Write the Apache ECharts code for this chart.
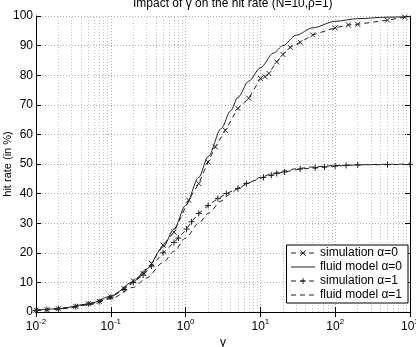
<!DOCTYPE html>
<html>
<head>
<meta charset="utf-8">
<script src="https://cdn.jsdelivr.net/npm/echarts@6/dist/echarts.min.js"></script>
<style>
  html, body { margin: 0; padding: 0; background: #fff; }
  #chart { width: 416px; height: 347px; }
</style>
</head>
<body>
<div id="chart"></div>
<script>
// fluid model curves
const fluidGamma = [0.01, 0.02, 0.05, 0.1, 0.2, 0.3, 0.5, 0.7, 1, 1.5, 2, 3, 4, 5, 7, 10, 15, 20, 30, 50, 100, 200, 500, 1000];
const fluidA0 = [0.6, 1.1, 2.7, 5.3, 10.2, 14.5, 22, 28, 36, 45.5, 52.5, 62, 68, 72.5, 78, 82.5, 87.5, 90, 93.5, 96, 98.2, 99.1, 99.6, 99.8];
const fluidA1 = [0.5, 1, 2.4, 4.5, 8.3, 11.5, 16.7, 20.5, 25, 30, 33.3, 37.5, 40, 41.7, 43.7, 45.5, 46.9, 47.6, 48.4, 49, 49.5, 49.75, 49.9, 50];

// simulation points
const simA0Gamma = [0.01, 0.014, 0.02, 0.034, 0.05, 0.07, 0.1, 0.15, 0.2, 0.27, 0.35, 0.5, 0.7, 1.1, 1.5, 2, 2.5, 3.4, 5, 7, 10, 11.5, 13, 16.5, 20, 25, 34, 50, 100, 150, 200, 500, 850];
const simA0 = [0.6, 0.8, 1.1, 1.9, 2.8, 3.6, 5.1, 7.9, 10.5, 13, 16.4, 22.6, 27, 37.8, 43.4, 50.7, 55.8, 61.4, 68.8, 72.2, 78.9, 79.5, 80.6, 84.5, 87, 89.4, 91.1, 93.6, 96, 97, 97.2, 98.6, 99.6];
const simA1Gamma = [0.01, 0.014, 0.02, 0.034, 0.05, 0.07, 0.1, 0.15, 0.2, 0.27, 0.35, 0.5, 0.7, 0.8, 1.03, 1.2, 1.5, 2, 2.7, 3.5, 5, 6.5, 11, 14, 16.5, 21, 34, 54, 72, 100, 140, 200, 500, 1000];
const simA1 = [0.5, 0.8, 1.1, 1.8, 2.7, 3.5, 5, 7.6, 10, 12.5, 15.5, 20, 23.5, 25, 28, 30.5, 33.3, 36, 38.3, 40, 41.7, 43.4, 45.5, 46.2, 46.8, 47.3, 48.3, 48.7, 49, 49.3, 49.5, 49.7, 49.8, 49.8];

const legendNames = ['simulation \u03b1=0', 'fluid model \u03b1=0', 'simulation \u03b1=1', 'fluid model \u03b1=1'];

// minor grid positions 2..9 in each decade
const minorGrid = [];
[0.01, 0.1, 1, 10, 100].forEach(d => {
  for (let k = 2; k <= 9; k++) minorGrid.push({ xAxis: d * k });
});

const pair = (xs, ys) => xs.map((x, i) => [x, ys[i]]);

const chart = echarts.init(document.getElementById('chart'));
const font = 'Liberation Sans, Arial, sans-serif';
const gridLine = { show: true, lineStyle: { color: '#b0b0b0', type: [1, 2], width: 1 } };
const crossPath = 'path://M0,0L10,10M10,0L0,10';
const plusPath = 'path://M5,0L5,10M0,5L10,5';
const hideSymbol = { itemStyle: { opacity: 0 } };

const options = {
  animation: false,
  textStyle: { fontFamily: font },
  title: {
    text: 'Impact of \u03b3 on the hit rate (N=10,\u03c1=1)',
    left: 128,
    top: -7,
    textStyle: { fontSize: 12, fontWeight: 'normal', color: '#000', fontFamily: font }
  },
  grid: {
    left: 36, right: 6, top: 16, bottom: 35,
    outerBoundsMode: 'none'
  },
  legend: {
    orient: 'vertical',
    right: 8,
    top: 245,
    data: [
      { name: legendNames[0] },
      Object.assign({ name: legendNames[1] }, hideSymbol),
      { name: legendNames[2] },
      Object.assign({ name: legendNames[3] }, hideSymbol)
    ],
    backgroundColor: '#fff',
    borderColor: '#000',
    borderWidth: 1,
    borderRadius: 0,
    padding: [2, 6, 2, 4],
    itemWidth: 24,
    itemHeight: 7,
    itemGap: 2,
    lineStyle: { width: 1 },
    itemStyle: { borderWidth: 1 },
    textStyle: { fontSize: 12, color: '#000', fontFamily: font }
  },
  xAxis: [
    {
      type: 'log',
      logBase: 10,
      min: 0.01,
      max: 1000,
      name: '\u03b3',
      nameLocation: 'middle',
      nameGap: 25,
      nameMoveOverlap: false,
      nameTextStyle: { fontSize: 12, color: '#000' },
      axisLine: { lineStyle: { color: '#000', width: 1 } },
      axisTick: { inside: true, length: 5, lineStyle: { color: '#000' } },
      splitLine: gridLine,
      axisLabel: {
        margin: 6,
        color: '#000',
        formatter: v => '{b|10}{s|' + Math.round(Math.log10(v)) + '}',
        rich: {
          b: { fontSize: 12, color: '#000', fontFamily: font },
          s: { fontSize: 8, color: '#000', fontFamily: font, padding: [0, 0, 9, 0] }
        }
      }
    },
    {
      type: 'log',
      logBase: 10,
      min: 0.01,
      max: 1000,
      position: 'top',
      axisLine: { show: true, lineStyle: { color: '#000', width: 1 } },
      axisTick: { show: true, inside: true, length: 5, lineStyle: { color: '#000' } },
      axisLabel: { show: false },
      splitLine: { show: false }
    }
  ],
  yAxis: [
    {
      type: 'value',
      min: 0,
      max: 100,
      interval: 10,
      name: 'hit rate (in %)',
      nameLocation: 'middle',
      nameGap: 23,
      nameMoveOverlap: false,
      nameTextStyle: { fontSize: 11, color: '#000' },
      axisLine: { show: true, lineStyle: { color: '#000', width: 1 } },
      axisTick: { show: true, inside: true, length: 5, lineStyle: { color: '#000' } },
      axisLabel: { margin: 3, fontSize: 12, color: '#000' },
      splitLine: gridLine
    },
    {
      type: 'value',
      min: 0,
      max: 100,
      interval: 10,
      position: 'right',
      axisLine: { show: true, lineStyle: { color: '#000', width: 1 } },
      axisTick: { show: true, inside: true, length: 5, lineStyle: { color: '#000' } },
      axisLabel: { show: false },
      splitLine: { show: false }
    }
  ],
  series: [
    {
      name: legendNames[0],
      type: 'line',
      data: pair(simA0Gamma, simA0),
      symbol: crossPath,
      symbolSize: 5,
      itemStyle: { color: 'rgba(0,0,0,0)', borderColor: '#222', borderWidth: 1 },
      lineStyle: { color: '#222', width: 1, type: [5, 4] },
      z: 4,
      markLine: {
        silent: true,
        symbol: 'none',
        label: { show: false },
        lineStyle: { color: '#c4c4c4', type: [1, 2], width: 1 },
        data: minorGrid,
        z: 1
      }
    },
    {
      name: legendNames[1],
      type: 'line',
      data: pair(fluidGamma, fluidA0),
      smooth: 0.3,
      smoothMonotone: 'x',
      showSymbol: false,
      symbol: 'none',
      itemStyle: { color: '#222' },
      lineStyle: { color: '#222', width: 1 },
      z: 3
    },
    {
      name: legendNames[2],
      type: 'line',
      data: pair(simA1Gamma, simA1),
      symbol: plusPath,
      symbolSize: 6,
      itemStyle: { color: 'rgba(0,0,0,0)', borderColor: '#222', borderWidth: 1 },
      lineStyle: { color: '#222', width: 1, type: [5, 4] },
      z: 4
    },
    {
      name: legendNames[3],
      type: 'line',
      data: pair(fluidGamma, fluidA1),
      smooth: 0.3,
      smoothMonotone: 'x',
      showSymbol: false,
      symbol: 'none',
      itemStyle: { color: '#222' },
      lineStyle: { color: '#222', width: 1, type: [5, 4] },
      z: 3
    }
  ]
};

chart.setOption(options);
window.addEventListener('resize', () => chart.resize());
</script>
</body>
</html>
